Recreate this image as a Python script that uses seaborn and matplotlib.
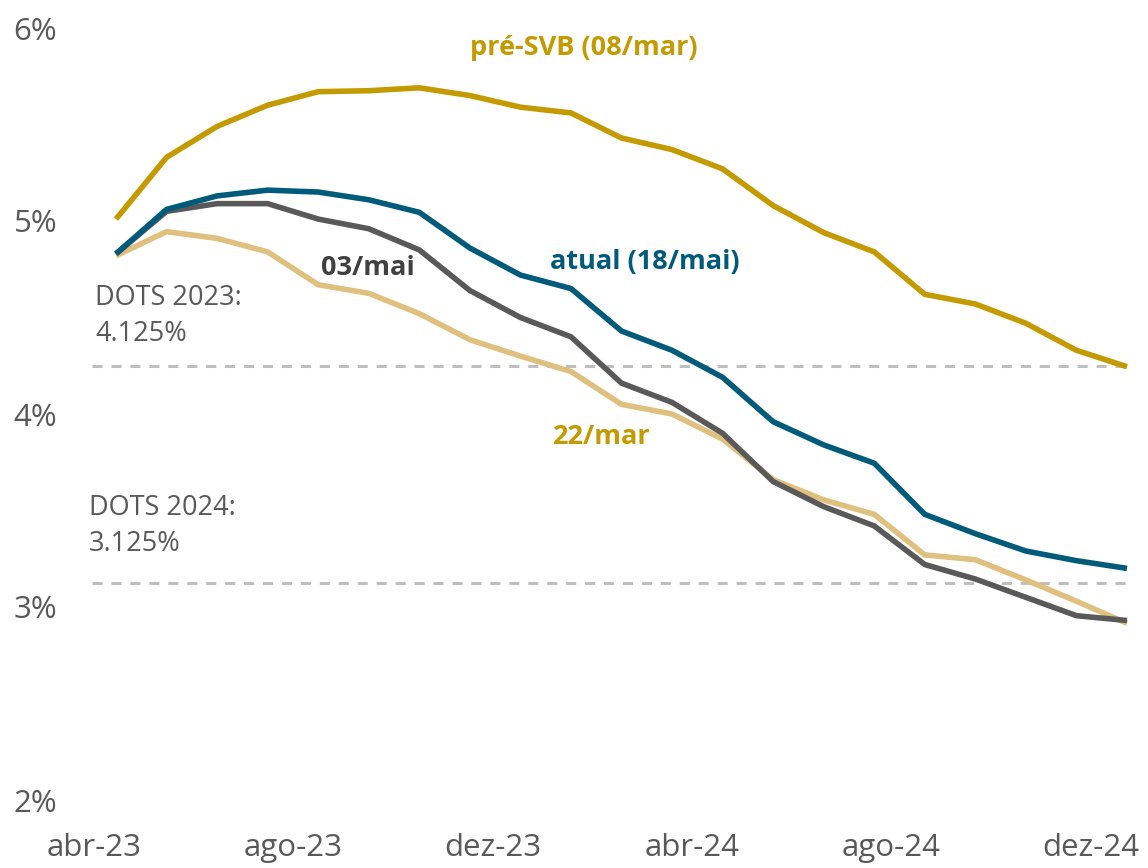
import numpy as np
import pandas as pd
import matplotlib
matplotlib.use("Agg")
import matplotlib.pyplot as plt
import seaborn as sns

# ---- data -------------------------------------------------------------
tick_labels = ["abr-23", "ago-23", "dez-23", "abr-24", "ago-24", "dez-24"]
y_ticks = [2, 3, 4, 5, 6]

pre_svb = [5.01, 5.33, 5.49, 5.60, 5.67, 5.675, 5.69, 5.65, 5.59, 5.56, 5.43,
           5.37, 5.27, 5.08, 4.94, 4.84, 4.62, 4.57, 4.47, 4.33, 4.245]
atual = [4.83, 5.06, 5.13, 5.16, 5.15, 5.11, 5.045, 4.86, 4.72, 4.65, 4.43,
         4.33, 4.19, 3.96, 3.84, 3.745, 3.48, 3.38, 3.29, 3.24, 3.20]
mai03 = [4.83, 5.05, 5.09, 5.09, 5.01, 4.96, 4.85, 4.64, 4.50, 4.40, 4.16,
         4.06, 3.90, 3.65, 3.52, 3.42, 3.22, 3.145, 3.05, 2.955, 2.93]
mar22 = [4.82, 4.945, 4.91, 4.84, 4.67, 4.625, 4.52, 4.385, 4.30, 4.22, 4.05,
         4.00, 3.87, 3.66, 3.555, 3.48, 3.27, 3.245, 3.14, 3.03, 2.915]
dots_levels = [4.25, 3.125]
dots_texts = ["DOTS 2023:\n4.125%", "DOTS 2024:\n3.125%"]

series = {"pré-SVB (08/mar)": pre_svb, "atual (18/mai)": atual,
          "03/mai": mai03, "22/mar": mar22}
colors = {"pré-SVB (08/mar)": "#C39A00", "atual (18/mai)": "#005A7A",
          "03/mai": "#595959", "22/mar": "#DFC07E"}

months = np.arange(len(pre_svb))
df = pd.concat([pd.DataFrame({"m": months, "v": vals, "s": name})
                for name, vals in series.items()], ignore_index=True)

# ---- figure -----------------------------------------------------------
sns.set_theme(style="white")
plt.rcParams["font.family"] = ["Open Sans", "DejaVu Sans"]

W, H = 1148, 868
fig = plt.figure(figsize=(W / 100, H / 100), dpi=100)
ax_left, ax_right, ax_top, ax_bot = 85, 1135, 28, 800
ax = fig.add_axes([ax_left / W, (H - ax_bot) / H,
                   (ax_right - ax_left) / W, (ax_bot - ax_top) / H])

px0, pstep = 116, 50.55  # pixel of first point, pixels per month
ax.set_xlim((ax_left - px0) / pstep, (ax_right - px0) / pstep)
ax.set_ylim(2, 6)

# dashed DOTS reference lines
for lvl in dots_levels:
    ax.hlines(lvl, months[0] - 0.47, months[-1], colors="#BFBFBF",
              linestyles=(0, (3.3, 2.9)), linewidth=2.2, zorder=1)

order = ["22/mar", "03/mai", "atual (18/mai)", "pré-SVB (08/mar)"]
sns.lineplot(data=df, x="m", y="v", hue="s", hue_order=order,
             palette=colors, linewidth=4.0, legend=False, ax=ax, zorder=3)
for ln in ax.get_lines():
    ln.set_solid_capstyle("butt")
    ln.set_solid_joinstyle("miter")

# ticks
ax.set_yticks(y_ticks)
ax.set_yticklabels([f"{t}%" for t in y_ticks])
tick_pos = [(-0.44 + 3.945 * k) for k in range(len(tick_labels))]
ax.set_xticks(tick_pos)
ax.set_xticklabels(tick_labels)
ax.tick_params(axis="y", length=0, pad=20, labelsize=22.5, labelcolor="#595959")
ax.tick_params(axis="x", length=0, pad=24, labelsize=22.5, labelcolor="#595959")
ax.set_xlabel("")
ax.set_ylabel("")
for sp in ax.spines.values():
    sp.set_visible(False)
ax.grid(False)

def dx(px):
    return (px - px0) / pstep

def dy(py):
    return 5 - (py - 221) / 193

# series labels
lab_kw = dict(fontsize=19.5, fontweight="bold", ha="center", va="center")
ax.text(dx(584), dy(48), "pré-SVB (08/mar)", color="#C39A00", **lab_kw)
ax.text(dx(645), dy(262), "atual (18/mai)", color="#005A7A", **lab_kw)
ax.text(dx(368), dy(268), "03/mai", color="#404040", **lab_kw)
ax.text(dx(602), dy(437), "22/mar", color="#C39A00", **lab_kw)

# DOTS labels
ax.text(dx(95), dy(316), dots_texts[0], color="#595959", fontsize=19.5,
        ha="left", va="center", linespacing=1.35)
ax.text(dx(89), dy(526), dots_texts[1], color="#595959", fontsize=19.5,
        ha="left", va="center", linespacing=1.35)

fig.savefig("out.png", dpi=100)
